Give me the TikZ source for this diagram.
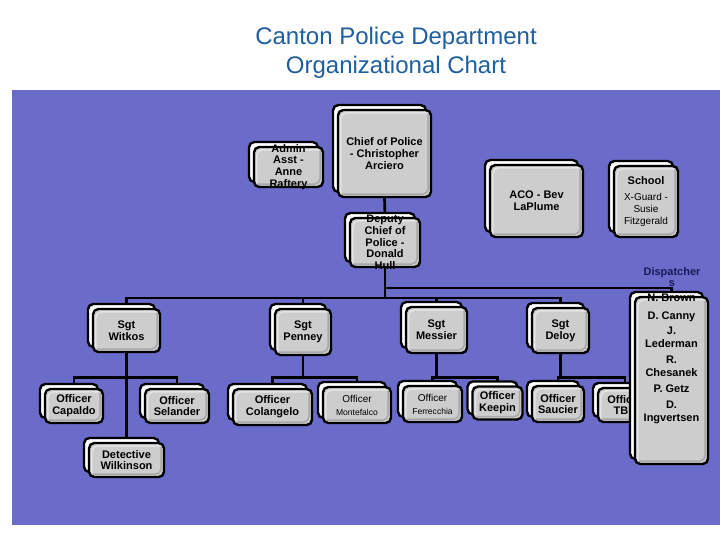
\documentclass[tikz,border=0pt]{standalone}
\usepackage{fontspec}
\setmainfont{Liberation Sans}
\usepackage{xcolor}
\usepackage{tikz}
\usetikzlibrary{positioning,shadows,backgrounds}
\definecolor{cpdBlue}{HTML}{1F5F9F}
\definecolor{cpdField}{HTML}{6B6BCA}
\definecolor{cpdGray}{HTML}{CDCDCD}
\definecolor{cpdLight}{HTML}{E4E4E4}
\definecolor{cpdShade}{HTML}{A9A9A9}
\definecolor{cpdNavy}{HTML}{1A1A5C}
\newcommand{\cardfont}{\fontsize{8.25}{8.8}\selectfont\bfseries}
\newcommand{\notefont}{\fontsize{7.5}{8.8}\selectfont\mdseries}
\newcommand{\tinyfont}{\fontsize{6.4}{8.8}\selectfont\mdseries}
\newcommand{\listfont}{\fontsize{8.25}{9.75}\selectfont\bfseries}
\tikzset{
  boxsize/.style 2 args={minimum width=#1*0.75pt,minimum height=#2*0.75pt},
  card/.style={draw=black,fill=cpdGray,line width=1.8pt,rounded corners=4pt,
    inner sep=0pt,align=center,font=\cardfont,
    copy shadow={shadow xshift=-3.75pt,shadow yshift=3.75pt,
      fill=white,draw=black,line width=1.8pt},
    path picture={
      \draw[cpdLight,line width=1.2pt]
        ([shift={(2.2pt,3pt)}]path picture bounding box.south west)
        |- ([shift={(-3pt,-2.2pt)}]path picture bounding box.north east);
      \draw[cpdShade,line width=1.2pt]
        ([shift={(3pt,2.2pt)}]path picture bounding box.south west)
        -| ([shift={(-2.2pt,-3pt)}]path picture bounding box.north east);
    }},
  cardtext/.style={align=center,font=\cardfont,inner sep=0pt},
  listtext/.style={align=center,font=\listfont,inner sep=0pt},
  teamlabel/.style={align=center,font=\cardfont,text=cpdNavy,inner sep=0pt},
  charttitle/.style={align=center,font=\fontsize{18}{21.75}\selectfont,text=cpdBlue},
  link/.style={draw=black,line width=2pt}
}

\begin{document}
\begin{tikzpicture}[x=0.75pt,y=-0.75pt]
  \useasboundingbox (0,0) rectangle (720,540);
  \begin{pgfonlayer}{background}
    \fill[white] (0,0) rectangle (720,540);
    \fill[cpdField] (12,90) rectangle (720,525);
  \end{pgfonlayer}

  \node[charttitle] (title) at (396,52.5) {Canton Police Department\\Organizational Chart};

  % command staff
  \node[card,boxsize={69}{40},label={[cardtext]center:Admin\\Asst -\\Anne\\Raftery}] (admin) at (288.5,167) {};
  \node[card,boxsize={93}{87}] (chief) at (384.5,153.5) {Chief of Police\\- Christopher\\Arciero};
  \node[card,boxsize={93}{72}] (aco) at (536.5,201) {ACO - Bev\\LaPlume};
  \node[card,boxsize={64}{71}] (school) at (646,201.5)
    {School\\[3pt]\notefont X-Guard -\\\notefont Susie\\\notefont Fitzgerald};
  \node[card,boxsize={70}{49},label={[cardtext]center:Deputy\\Chief of\\Police -\\Donald\\Hull}] (deputy) at (385,242.5) {};

  % sergeants
  \node[card,boxsize={67}{43}] (witkos) at (126.5,330.5) {Sgt\\Witkos};
  \node[card,boxsize={56}{46}] (penney) at (303,332) {Sgt\\Penney};
  \node[card,boxsize={61}{46}] (messier) at (436.5,330) {Sgt\\Messier};
  \node[card,boxsize={57}{45}] (deloy) at (560.5,330.5) {Sgt\\Deloy};

  % officers
  \node[card,boxsize={58}{34}] (capaldo) at (74,406) {Officer\\Capaldo};
  \node[card,boxsize={64}{34}] (selander) at (177,406) {Officer\\Selander};
  \node[card,boxsize={75}{34}] (wilkinson) at (126.5,460) {Detective\\Wilkinson};
  \node[card,boxsize={79}{36}] (colangelo) at (272.5,407) {Officer\\Colangelo};
  \node[card,boxsize={68}{36}] (montefalco) at (357,405) {\notefont Officer\\[1pt]\tinyfont Montefalco};
  \node[card,boxsize={59}{36}] (ferrecchia) at (432.5,404) {\notefont Officer\\[1pt]\tinyfont Ferrecchia};
  \node[card,boxsize={50}{33}] (keepin) at (497.5,403) {Officer\\Keepin};
  \node[card,boxsize={52}{36}] (saucier) at (558,404) {Officer\\Saucier};
  \node[card,boxsize={54}{34}] (tbd) at (625,405) {Officer\\TBD};

  % dispatch
  \node[teamlabel] (disptitle) at (672,277) {Dispatcher\\s};
  \node[card,boxsize={73}{167},label={[listtext,yshift=16.2pt]center:N. Brown\\[3.75pt]D. Canny\\[1.5pt]J.\\Lederman\\[2.25pt]R.\\Chesanek\\[2.25pt]P. Getz\\[2.25pt]D.\\Ingvertsen}] (disp) at (671.5,380.5) {};

  \begin{pgfonlayer}{background}
    \coordinate (dispbus) at (385,288);
    \coordinate (sgtbus) at (385,298);
    \coordinate (offbus) at (0,377.5);
    \draw[link] (chief.south) -- (deputy.north);
    \draw[link] (deputy.south) -- (sgtbus);
    \draw[link] (dispbus) -| (disp.north);
    \draw[link] (witkos.north) |- (sgtbus) -| (deloy.north);
    \foreach \sgt in {penney,messier}
      \draw[link] (\sgt.north) -- (\sgt.north |- sgtbus);
    \draw[link] (witkos.south) -- (wilkinson.north);
    \foreach \sgt/\lft/\rgt in {witkos/capaldo/selander,penney/colangelo/montefalco,
        messier/ferrecchia/keepin,deloy/saucier/tbd}{
      \draw[link] (\sgt.south) -- (\sgt.south |- offbus);
      \draw[link] (\lft.north) |- (\sgt.south |- offbus) -| (\rgt.north);
    }
  \end{pgfonlayer}
\end{tikzpicture}
\end{document}
